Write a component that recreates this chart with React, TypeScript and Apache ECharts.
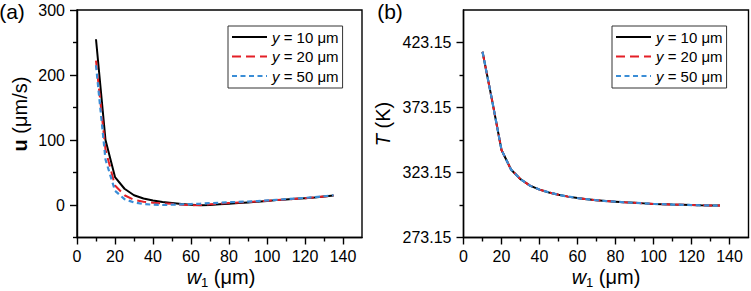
import React, { useEffect, useRef } from "react";
import * as echarts from "echarts";

// ---- data ----
const w1 = [10, 15, 20, 25, 30, 35, 40, 45, 50, 55, 60, 65, 70, 75, 80, 85, 90, 95, 100, 105, 110, 115, 120, 125, 130, 135];

const u10 = [255, 100, 43, 25, 15, 10, 7, 4.5, 3, 1.5, 0.5, -0.5, 0, 1, 2, 3, 4, 5, 6, 7.5, 8.5, 9.5, 10.5, 11.5, 13, 14.5];
const u20 = [222, 85, 30, 15, 8, 5, 3.5, 2.5, 2, 0.5, -0.5, 0, 1, 2, 3, 3.8, 4.6, 5.5, 6.5, 7.5, 8.5, 9.5, 10.5, 11.5, 13, 14.5];
const u50 = [215, 70, 22, 9, 4, 1.5, 0.5, 0, 0.5, 1, 1.5, 2, 2.8, 3.5, 4.2, 4.8, 5.3, 6, 7, 8, 9, 10, 11, 12, 13.5, 15];

const T10 = [416, 379, 340.5, 325.5, 318, 313, 310, 307.8, 306, 304.6, 303.5, 302.6, 301.8, 301.2, 300.7, 300.2, 299.8, 299.4, 299, 298.8, 298.5, 298.3, 298.1, 297.9, 297.8, 297.7];
const T20 = [416, 379, 340.5, 325.5, 318, 313, 310, 307.8, 306, 304.6, 303.5, 302.6, 301.8, 301.2, 300.7, 300.2, 299.8, 299.4, 299, 298.8, 298.5, 298.3, 298.1, 297.9, 297.8, 297.7];
const T50 = [416, 379, 340.5, 325.5, 318, 313, 310, 307.8, 306, 304.6, 303.5, 302.6, 301.8, 301.2, 300.7, 300.2, 299.8, 299.4, 299, 298.8, 298.5, 298.3, 298.1, 297.9, 297.8, 297.7];

const seriesNames = ["y = 10 μm", "y = 20 μm", "y = 50 μm"];
const xMajor = [0, 20, 40, 60, 80, 100, 120, 140];
const xMinor = [10, 30, 50, 70, 90, 110, 130];
const uMajor = [0, 100, 200, 300];
const uMinor = [-50, 50, 150, 250];
const TMajor = [273.15, 323.15, 373.15, 423.15];
const TMinor = [298.15, 348.15, 398.15];

const FONT = "'Liberation Sans', Arial, Helvetica, sans-serif";

export default function App() {
  const ref = useRef<HTMLDivElement>(null);
  useEffect(() => {
    document.body.style.margin = "0";
    const chart = echarts.init(ref.current!, null, { renderer: "svg" });
    const pair = (ys: number[]) => w1.map((x, i) => [x, ys[i]]);
    const colors = ["#000000", "#e41f26", "#3a8dd6"];
    const styles: any[] = [
      { width: 2, type: "solid" },
      { width: 2, type: [9, 5] },
      { width: 2.2, type: [5, 3.5] },
    ];
    const mkSeries = (data: number[][], idx: number, axisIdx: number) => ({
      type: "line",
      name: seriesNames[idx],
      xAxisIndex: axisIdx,
      yAxisIndex: axisIdx,
      data,
      symbol: "none",
      color: colors[idx],
      lineStyle: { color: colors[idx], ...styles[idx] },
      z: 3 + idx,
    });
    const tickLine = { color: "#000", width: 1.4 };
    const labelStyle = { color: "#000", fontSize: 16, fontFamily: FONT };
    const xMain = (grid: number) => ({
      type: "value",
      gridIndex: grid,
      min: 0,
      max: 150,
      position: "bottom",
      axisLine: { show: true, onZero: false, lineStyle: { color: "#000", width: 1.4 } },
      axisTick: { show: true, inside: false, length: 7, customValues: xMajor, lineStyle: tickLine },
      axisLabel: { ...labelStyle, margin: 11, customValues: xMajor },
      splitLine: { show: false },
    });
    const xMin = (grid: number) => ({
      type: "value",
      gridIndex: grid,
      min: 0,
      max: 150,
      position: "bottom",
      axisLine: { show: false, onZero: false },
      axisTick: { show: true, inside: false, length: 4, customValues: xMinor, lineStyle: tickLine },
      axisLabel: { show: false },
      splitLine: { show: false },
    });
    const yMain = (grid: number, min: number, max: number, major: number[], fmt: (v: number) => string) => ({
      type: "value",
      gridIndex: grid,
      min,
      max,
      position: "left",
      axisLine: { show: true, onZero: false, lineStyle: { color: "#000", width: 1.4 } },
      axisTick: { show: true, inside: false, length: 7, customValues: major, lineStyle: tickLine },
      axisLabel: { ...labelStyle, margin: 12, customValues: major, formatter: fmt },
      splitLine: { show: false },
    });
    const yMin = (grid: number, min: number, max: number, minor: number[]) => ({
      type: "value",
      gridIndex: grid,
      min,
      max,
      position: "left",
      axisLine: { show: false, onZero: false },
      axisTick: { show: true, inside: false, length: 4, customValues: minor, lineStyle: tickLine },
      axisLabel: { show: false },
      splitLine: { show: false },
    });
    const legend = (left: number) => ({
      left,
      top: 26,
      orient: "vertical",
      data: seriesNames,
      itemWidth: 35,
      itemHeight: 14,
      itemGap: 3.5,
      borderColor: "#333",
      borderWidth: 1,
      padding: [3, 4, 4, 3],
      selectedMode: false,
      itemStyle: { color: "transparent", borderWidth: 0, opacity: 0 },
      formatter: (n: string) => n.replace(/^y/, "{i|y}"),
      textStyle: {
        fontSize: 15,
        fontFamily: FONT,
        color: "#000",
        lineHeight: 16,
        rich: { i: { fontStyle: "italic", fontSize: 15, fontFamily: FONT, color: "#000" } },
      },
    });
    const txt = (x: number, y: number, text: string, rich: any, size: number, rot = 0) => ({
      type: "text",
      x,
      y,
      rotation: rot,
      style: {
        text,
        fontSize: size,
        fontFamily: FONT,
        fill: "#000",
        align: "center",
        verticalAlign: "middle",
        rich,
      },
    });
    const richBase = { fontSize: 20, fontFamily: FONT, color: "#000" };
    const subRich = { fontSize: 13, fontFamily: FONT, color: "#000", verticalAlign: "bottom", padding: [10, 0, 0, 0] };
    chart.setOption({
      animation: false,
      backgroundColor: "#fff",
      grid: [
        { left: 77, top: 10, width: 285, height: 227.5, show: true, borderColor: "#000", borderWidth: 1.4, backgroundColor: "transparent" },
        { left: 463.5, top: 10, width: 285, height: 227.5, show: true, borderColor: "#000", borderWidth: 1.4, backgroundColor: "transparent" },
      ],
      xAxis: [xMain(0), xMain(1), xMin(0), xMin(1)],
      yAxis: [
        yMain(0, -50, 300, uMajor, (v: number) => String(v)),
        yMain(1, 273.15, 448.15, TMajor, (v: number) => v.toFixed(2)),
        yMin(0, -50, 300, uMinor),
        yMin(1, 273.15, 448.15, TMinor),
      ],
      legend: [legend(228), legend(612)],
      series: [
        mkSeries(pair(u10), 0, 0),
        mkSeries(pair(u20), 1, 0),
        mkSeries(pair(u50), 2, 0),
        mkSeries(pair(T10), 0, 1),
        mkSeries(pair(T20), 1, 1),
        mkSeries(pair(T50), 2, 1),
      ],
      graphic: [
        txt(12, 11, "(a)", {}, 21),
        txt(390, 11, "(b)", {}, 21),
        txt(20, 114, "{b|u} (μm/s)", { b: { ...richBase, fontWeight: "bold" } }, 20, Math.PI / 2),
        txt(383, 124, "{i|T} (K)", { i: { ...richBase, fontStyle: "italic" } }, 20, Math.PI / 2),
        txt(221, 277, "{i|w}{s|1} (μm)", { i: { ...richBase, fontStyle: "italic" }, s: subRich }, 20),
        txt(606, 277, "{i|w}{s|1} (μm)", { i: { ...richBase, fontStyle: "italic" }, s: subRich }, 20),
      ],
    });
    return () => chart.dispose();
  }, []);
  return <div ref={ref} style={{ width: 751, height: 291 }} />;
}
